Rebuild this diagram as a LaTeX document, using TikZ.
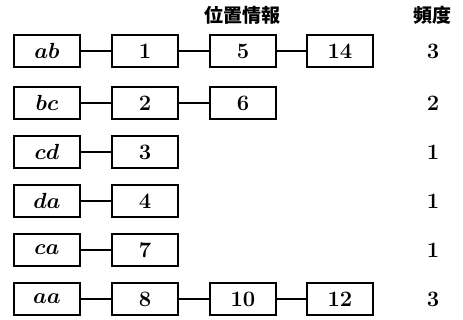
\documentclass[tikz,border=0pt]{standalone}
\usepackage{fontspec}
\newfontfamily\cjk{Noto Sans CJK JP}
\begin{document}
\begin{tikzpicture}[x=0.5pt,y=-0.5pt,
  cell/.style={draw,line width=0.9pt,minimum width=33pt,minimum height=16pt,inner sep=0pt,font=\fontsize{11}{13}\selectfont\bfseries\boldmath},
  link/.style={line width=0.9pt},
  freq/.style={font=\fontsize{11}{13}\selectfont\bfseries},
  head/.style={font=\cjk\fontsize{9.5}{11}\selectfont\bfseries}]
\useasboundingbox (0,0) rectangle (463,320);
\node[head] (h1) at (243,15) {位置情報};
\node[head] (h2) at (433,15) {頻度};
% row 1
\node[cell] (k1) at (47,51) {$ab$};
\node[cell] (a1) at (145,51) {1};
\node[cell] (b1) at (243,51) {5};
\node[cell] (c1) at (340,51) {14};
\node[freq] (f1) at (433,51) {3};
\draw[link] (k1) -- (a1); \draw[link] (a1) -- (b1); \draw[link] (b1) -- (c1);
% row 2
\node[cell] (k2) at (47,103) {$bc$};
\node[cell] (a2) at (145,103) {2};
\node[cell] (b2) at (243,103) {6};
\node[freq] (f2) at (433,103) {2};
\draw[link] (k2) -- (a2); \draw[link] (a2) -- (b2);
% row 3
\node[cell] (k3) at (47,152) {$cd$};
\node[cell] (a3) at (145,152) {3};
\node[freq] (f3) at (433,152) {1};
\draw[link] (k3) -- (a3);
% row 4
\node[cell] (k4) at (47,201) {$da$};
\node[cell] (a4) at (145,201) {4};
\node[freq] (f4) at (433,201) {1};
\draw[link] (k4) -- (a4);
% row 5
\node[cell] (k5) at (47,250) {$ca$};
\node[cell] (a5) at (145,250) {7};
\node[freq] (f5) at (433,250) {1};
\draw[link] (k5) -- (a5);
% row 6
\node[cell] (k6) at (47,299) {$aa$};
\node[cell] (a6) at (145,299) {8};
\node[cell] (b6) at (243,299) {10};
\node[cell] (c6) at (340,299) {12};
\node[freq] (f6) at (433,299) {3};
\draw[link] (k6) -- (a6); \draw[link] (a6) -- (b6); \draw[link] (b6) -- (c6);
\end{tikzpicture}
\end{document}
